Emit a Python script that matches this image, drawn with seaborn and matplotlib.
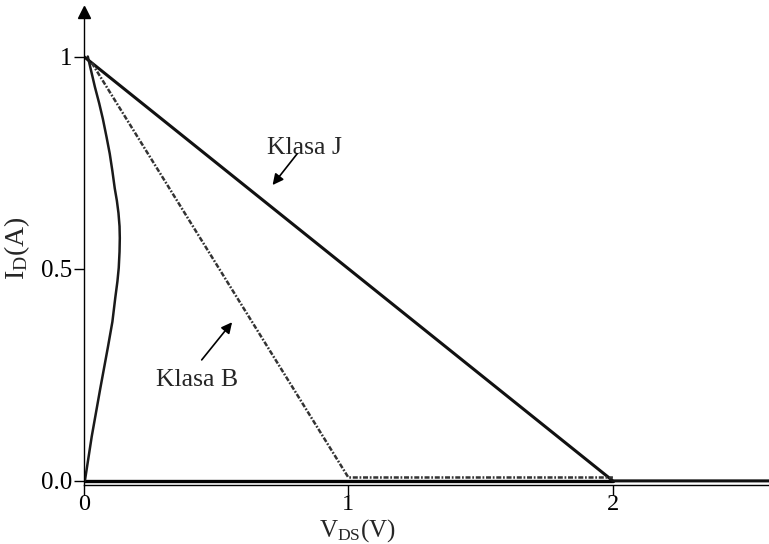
import matplotlib
matplotlib.use("Agg")
import matplotlib.pyplot as plt
import seaborn as sns

# ── data ──
# Klasa J load line (solid), continues along the V_DS axis
j_vds = [0.0, 2.0, 2.59]
j_id  = [1.0, 0.0, 0.0]

# Klasa B load line (dash-dot), then runs along zero from 1 V to 2 V
b_vds = [0.03, 1.0, 2.0]
b_id  = [0.985, 0.008, 0.008]

# bottom baseline from origin to 2 V
base_vds = [0.0, 2.0]
base_id  = [0.0, 0.0]

# curved trajectory near the I_D axis
c_vds = [0.004, 0.030, 0.062, 0.091, 0.108, 0.119, 0.127, 0.132, 0.135, 0.136,
         0.135, 0.131, 0.125, 0.117, 0.108, 0.098, 0.086, 0.072, 0.058, 0.042, 0.030, 0.015]
c_id  = [0.0, 0.105, 0.217, 0.315, 0.375, 0.432, 0.470, 0.502, 0.540, 0.572,
         0.600, 0.631, 0.660, 0.689, 0.730, 0.771, 0.810, 0.853, 0.890, 0.928, 0.960, 1.0]

x_ticks = [0, 1, 2]
x_ticklabels = ["0", "1", "2"]
y_ticks = [0.0, 0.5, 1.0]
y_ticklabels = ["0.0", "0.5", "1"]

sns.set_style("ticks")
plt.rcParams["font.family"] = ["Liberation Serif", "DejaVu Serif"]
plt.rcParams["mathtext.fontset"] = "custom"
plt.rcParams["mathtext.rm"] = "Liberation Serif"

fig = plt.figure(figsize=(7.69, 5.44), dpi=100)
ax = fig.add_axes([0.109, 0.109, 0.891, 0.869])

sns.lineplot(x=base_vds, y=base_id, ax=ax, color="black", lw=2.4, sort=False, estimator=None)
sns.lineplot(x=j_vds, y=j_id, ax=ax, color="#111111", lw=2.2, sort=False, estimator=None)
sns.lineplot(x=c_vds, y=c_id, ax=ax, color="#1a1a1a", lw=1.8, sort=False, estimator=None)
sns.lineplot(x=b_vds, y=b_id, ax=ax, color="#333333", lw=1.8, sort=False, estimator=None,
             linestyle=(0, (2, 0.7, 0.7, 0.7)))
for ln in ax.lines:
    ln.set_solid_joinstyle("round")

ax.set_xlim(0, 2.59)
ax.set_ylim(-0.009, 1.105)
ax.set_xticks(x_ticks)
ax.set_xticklabels(x_ticklabels)
ax.set_yticks(y_ticks)
ax.set_yticklabels(y_ticklabels)
ax.tick_params(axis="both", direction="out", length=7, width=1, colors="black",
               labelsize=18, pad=1)
ax.tick_params(axis="x", pad=0, labelsize=17.5)

sns.despine(ax=ax, top=True, right=True)
for s in ("left", "bottom"):
    ax.spines[s].set_color("black")
    ax.spines[s].set_linewidth(1.0)

# arrow head on the I_D axis
ax.plot(0, 1.0, marker="^", color="black", markersize=9,
        transform=ax.get_xaxis_transform(), clip_on=False)

ax.set_xlabel(r"$\mathregular{V_{DS}(V)}$", fontsize=18)
ax.set_ylabel(r"$\mathregular{I_{D}(A)}$", fontsize=20)
ax.xaxis.set_label_coords(0.40, -0.068)
ax.yaxis.set_label_coords(-0.075, 0.5)

# annotations
ax.text(0.836, 0.785, "Klasa J", fontsize=18.5, ha="center", va="center")
ax.annotate("", xy=(0.707, 0.692), xytext=(0.813, 0.776),
            arrowprops=dict(arrowstyle="-|>", color="black", lw=1.2, mutation_scale=16))
ax.text(0.427, 0.238, "Klasa B", fontsize=18.5, ha="center", va="center")
ax.annotate("", xy=(0.567, 0.379), xytext=(0.439, 0.280),
            arrowprops=dict(arrowstyle="-|>", color="black", lw=1.2, mutation_scale=16))

fig.savefig("out.png", dpi=100)
